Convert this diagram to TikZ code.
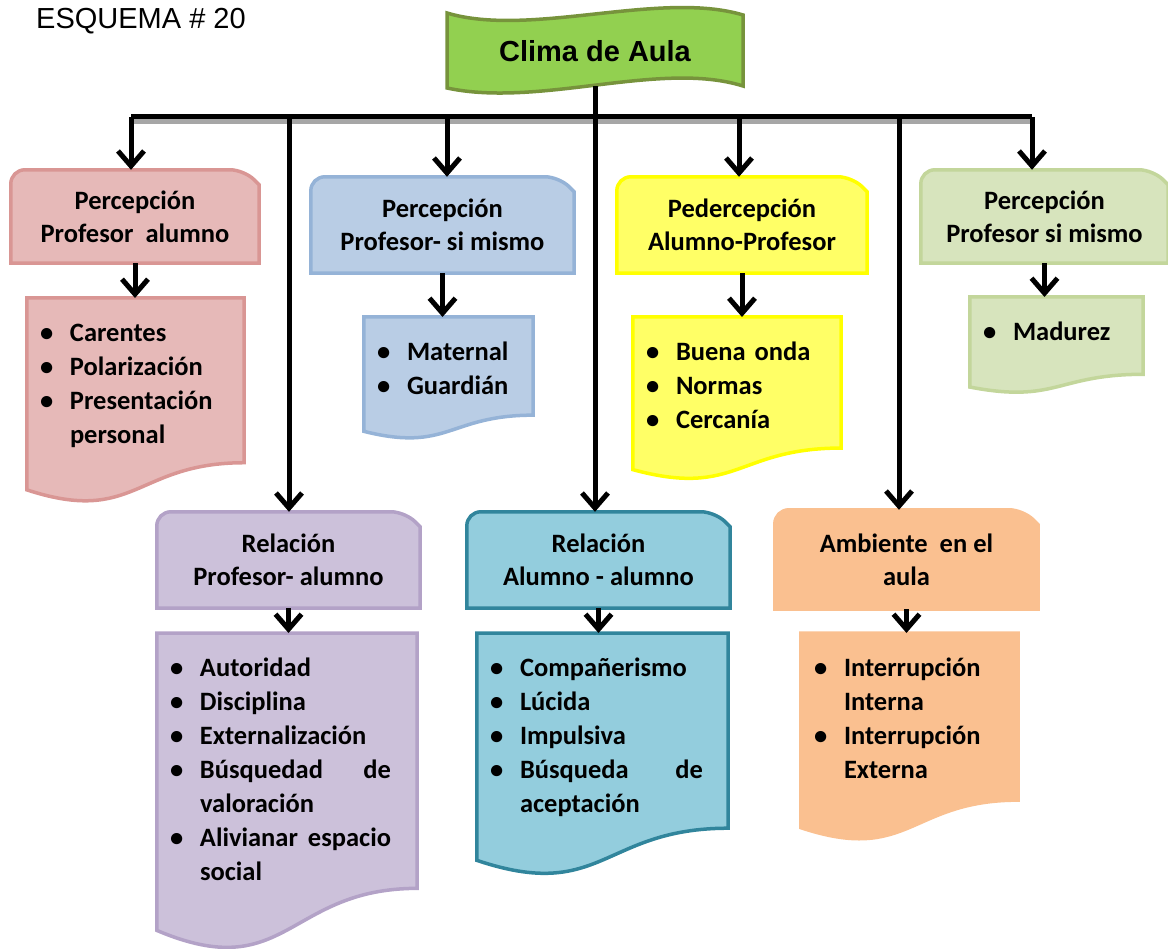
\documentclass[tikz,border=0pt]{standalone}
\usepackage{fontspec}
\setmainfont{Carlito}
\newfontfamily\arialfont{Liberation Sans}
\usetikzlibrary{arrows.meta, calc, backgrounds}

\definecolor{pinkfill}{HTML}{E6B9B8}
\definecolor{pinkline}{HTML}{D99694}
\definecolor{bluefill}{HTML}{B9CDE5}
\definecolor{blueline}{HTML}{95B3D7}
\definecolor{yellowfill}{HTML}{FFFF66}
\definecolor{yellowline}{HTML}{FFFF00}
\definecolor{greenfill}{HTML}{D7E4BD}
\definecolor{greenline}{HTML}{C3D69B}
\definecolor{purplefill}{HTML}{CCC1DA}
\definecolor{purpleline}{HTML}{B3A2C7}
\definecolor{tealfill}{HTML}{93CDDD}
\definecolor{tealline}{HTML}{31859C}
\definecolor{orangefill}{HTML}{FAC090}
\definecolor{bannerfill}{HTML}{92D050}
\definecolor{bannerline}{HTML}{77933C}

\newcommand{\itm}{\makebox[30pt][l]{\textbullet}}

\begin{document}
\begin{tikzpicture}[x=1pt, y=-1pt,
    head/.style 2 args={minimum width=#1, minimum height=#2, inner sep=0pt, align=center,
      font=\bfseries\fontsize{26.5}{33}\selectfont},
    lst/.style={anchor=north, text width=#1, inner xsep=13pt, inner ysep=0pt,
      text height=43pt, align=left, font=\bfseries\fontsize{26.5}{34}\selectfont},
    conn/.style={line width=5pt},
    shade/.style={draw=black!35, line width=5pt},
    pointed/.style={-{Straight Barb[length=15pt, width=26pt]}}]
  \useasboundingbox (0,0) rectangle (1168,949);

  % title
  \node[anchor=west, inner sep=0pt, font=\arialfont\fontsize{29}{34}\selectfont] (title) at (36,21) {ESQUEMA \# 20};
  \node[minimum width=296pt, minimum height=70pt, font=\arialfont\bfseries\fontsize{29}{34}\selectfont] (clima) at (595,51) {Clima de Aula};

  % headers
  \node[head={248pt}{93pt}] (pinkhead) at (135,216.5) {Percepción\\Profesor\ \ alumno};
  \node[head={263pt}{96pt}] (bluehead) at (442.5,225) {Percepción\\Profesor- si mismo};
  \node[head={250pt}{96pt}] (yellowhead) at (742,225) {Pedercepción\\Alumno-Profesor};
  \node[head={247pt}{93pt}] (greenhead) at (1044.5,216.5) {Percepción\\Profesor si mismo};
  \node[head={263pt}{96pt}] (purplehead) at (288.5,560) {Relación\\Profesor- alumno};
  \node[head={263pt}{96pt}] (tealhead) at (598.5,560) {Relación\\Alumno - alumno};
  \node[head={263pt}{99pt}] (orangehead) at (906.5,559.5) {Ambiente\ \ en el\\aula};

  % lists
  \node[lst=191pt, text depth=162pt] (pinklist) at (135.5,298)
    {\itm Carentes\\\itm Polarización\\\itm Presentación\\\hspace*{30pt}personal};
  \node[lst=143pt, text depth=79pt] (bluelist) at (448.5,317)
    {\itm Maternal\\\itm Guardián};
  \node[lst=182pt, text depth=120pt] (yellowlist) at (737,317)
    {\itm Buena onda\\\itm Normas\\\itm Cercanía};
  \node[lst=147pt, text depth=53pt] (greenlist) at (1056.5,297)
    {\itm Madurez};
  \node[lst=234pt, text depth=275pt] (purplelist) at (287,633)
    {\itm Autoridad\\\itm Disciplina\\\itm Externalización\\
     \itm\hbox to 191pt{Búsquedad\hfill de}\\\hspace*{30pt}valoración\\
     \itm\hbox to 191pt{Alivianar\hfill espacio}\\\hspace*{30pt}social};
  \node[lst=225pt, text depth=200pt] (teallist) at (602.5,633)
    {\itm Compañerismo\\\itm Lúcida\\\itm Impulsiva\\
     \itm\hbox to 183pt{Búsqueda\hfill de}\\\hspace*{30pt}aceptación};
  \node[lst=191pt, text depth=165pt] (orangelist) at (909.5,633)
    {\itm Interrupción\\\hspace*{30pt}Interna\\\itm Interrupción\\\hspace*{30pt}Externa};

  \begin{scope}[on background layer]
    % banner
    \draw[fill=bannerfill, draw=bannerline, line width=3.5pt]
      (447,13) .. controls (530,38) and (660,-10) .. (743,15) -- (743,86)
      .. controls (660,60) and (540,108) .. (447,88) -- cycle;
    % header shapes
    \foreach \n/\f/\d in {pinkhead/pinkfill/pinkline, bluehead/bluefill/blueline,
        yellowhead/yellowfill/yellowline, greenhead/greenfill/greenline,
        purplehead/purplefill/purpleline, tealhead/tealfill/tealline,
        orangehead/orangefill/orangefill} {
      \draw[fill=\f, draw=\d, line width=3.5pt]
        (\n.south west) [rounded corners=14pt] -- (\n.north west)
        -- ([xshift=-15pt]\n.north east) [sharp corners] -- ([yshift=-15pt]\n.north east)
        -- (\n.south east) -- cycle;
    }
    % list shapes
    \foreach \n/\f/\d in {pinklist/pinkfill/pinkline, bluelist/bluefill/blueline,
        yellowlist/yellowfill/yellowline, greenlist/greenfill/greenline,
        purplelist/purplefill/purpleline, teallist/tealfill/tealline,
        orangelist/orangefill/orangefill} {
      \draw[fill=\f, draw=\d, line width=3.5pt]
        (\n.north west) -- (\n.north east) -- ($(\n.north east)!0.802!(\n.south east)$)
        .. controls ($(\n.north)!0.802!(\n.south)$) and ($(\n.north)!1.1075!(\n.south)$)
        .. ($(\n.north west)!0.934!(\n.south west)$) -- cycle;
    }
  \end{scope}

  % bar
  \foreach \x [count=\i] in {131, 289, 447, 595, 739, 899, 1032} {
    \coordinate (b\i) at (\x,117);
  }
  \draw[shade] ([yshift=-5pt]b1) -- ([yshift=-5pt]b7);
  \draw[conn, pointed] (clima.south) -- (clima.south |- tealhead.north);
  \draw[conn] (b1) -- (b7);
  \foreach \b/\n in {b1/pinkhead, b2/purplehead, b3/bluehead, b5/yellowhead, b6/orangehead, b7/greenhead} {
    \draw[conn, pointed] (\b) -- (\b |- \n.north);
  }
  % header to list
  \foreach \h/\l in {pinkhead/pinklist, bluehead/bluelist, yellowhead/yellowlist, greenhead/greenlist,
      purplehead/purplelist, tealhead/teallist, orangehead/orangelist} {
    \draw[conn, pointed] (\h.south) -- (\h.south |- \l.north);
  }
\end{tikzpicture}
\end{document}
